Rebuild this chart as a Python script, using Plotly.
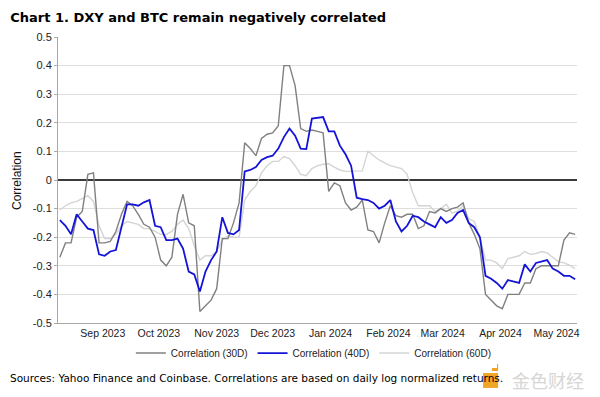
import plotly.graph_objects as go
import pandas as pd

# ---- data (one point every 3 days) ----
dates = pd.date_range("2023-08-09", periods=93, freq="3D")

corr_30d = [
    -0.27, -0.22, -0.22, -0.13, -0.11, 0.02, 0.025, -0.22, -0.22, -0.215,
    -0.18, -0.12, -0.075, -0.09, -0.12, -0.155, -0.165, -0.20, -0.28, -0.30,
    -0.27, -0.12, -0.05, -0.15, -0.16, -0.46, -0.44, -0.42, -0.38, -0.205,
    -0.205, -0.15, -0.08, 0.13, 0.11, 0.085, 0.145, 0.16, 0.165, 0.19,
    0.40, 0.40, 0.33, 0.18, 0.17, 0.175, 0.17, 0.165, -0.04, -0.01,
    -0.02, -0.08, -0.105, -0.095, -0.07, -0.175, -0.18, -0.22, -0.15, -0.09,
    -0.125, -0.13, -0.12, -0.12, -0.17, -0.16, -0.11, -0.115, -0.10, -0.11,
    -0.10, -0.095, -0.08, -0.15, -0.19, -0.24, -0.40, -0.42, -0.44, -0.45,
    -0.40, -0.40, -0.40, -0.36, -0.36, -0.31, -0.30, -0.30, -0.30, -0.30,
    -0.21, -0.185, -0.19,
]

corr_40d = [
    -0.14, -0.16, -0.19, -0.12, -0.145, -0.17, -0.175, -0.26, -0.265, -0.25,
    -0.245, -0.16, -0.085, -0.085, -0.09, -0.078, -0.07, -0.16, -0.165, -0.21,
    -0.21, -0.205, -0.24, -0.32, -0.33, -0.39, -0.32, -0.28, -0.25, -0.13,
    -0.185, -0.19, -0.175, 0.03, 0.035, 0.045, 0.07, 0.08, 0.085, 0.11,
    0.15, 0.18, 0.155, 0.11, 0.108, 0.215, 0.218, 0.22, 0.17, 0.17,
    0.12, 0.09, 0.05, -0.062, -0.067, -0.07, -0.08, -0.10, -0.09, -0.07,
    -0.145, -0.18, -0.16, -0.125, -0.13, -0.145, -0.155, -0.165, -0.13, -0.15,
    -0.14, -0.115, -0.105, -0.15, -0.165, -0.20, -0.335, -0.345, -0.36, -0.38,
    -0.35, -0.355, -0.36, -0.295, -0.32, -0.29, -0.285, -0.28, -0.31, -0.32,
    -0.335, -0.335, -0.347,
]

corr_60d = [
    -0.105, -0.09, -0.08, -0.075, -0.065, -0.055, -0.075, -0.16, -0.205, -0.205,
    -0.19, -0.16, -0.145, -0.15, -0.155, -0.17, -0.17, -0.18, -0.19, -0.19,
    -0.18, -0.155, -0.14, -0.17, -0.23, -0.28, -0.265, -0.265, -0.25, -0.21,
    -0.195, -0.20, -0.20, -0.07, -0.04, -0.02, 0.025, 0.05, 0.065, 0.065,
    0.082, 0.075, 0.05, 0.02, 0.015, 0.04, 0.05, 0.055, 0.057, 0.045,
    0.035, 0.03, 0.03, 0.03, 0.032, 0.10, 0.085, 0.07, 0.06, 0.05,
    0.045, 0.04, 0.02, -0.045, -0.09, -0.09, -0.09, -0.11, -0.10, -0.085,
    -0.115, -0.11, -0.09, -0.135, -0.145, -0.20, -0.28, -0.28, -0.29, -0.31,
    -0.275, -0.27, -0.265, -0.25, -0.26, -0.257, -0.25, -0.255, -0.27, -0.285,
    -0.29, -0.298, -0.31,
]

month_ticks = ["2023-09-01", "2023-10-01", "2023-11-01", "2023-12-01", "2024-01-01",
               "2024-02-01", "2024-03-01", "2024-04-01", "2024-05-01"]
month_labels = ["Sep 2023", "Oct 2023", "Nov 2023", "Dec 2023", "Jan 2024",
                "Feb 2024", "Mar 2024", "Apr 2024", "May 2024"]
y_ticks = [0.5, 0.4, 0.3, 0.2, 0.1, 0, -0.1, -0.2, -0.3, -0.4, -0.5]
y_tick_labels = ["0.5", "0.4", "0.3", "0.2", "0.1", "0", "-0.1", "-0.2", "-0.3", "-0.4", "-0.5"]

fig = go.Figure()
fig.add_trace(go.Scatter(x=dates, y=corr_60d, mode="lines", name="Correlation (60D)",
                         line=dict(color="#d4d4d4", width=1.4), legendrank=3))
fig.add_trace(go.Scatter(x=dates, y=corr_30d, mode="lines", name="Correlation (30D)",
                         line=dict(color="#808080", width=1.4), legendrank=1))
fig.add_trace(go.Scatter(x=dates, y=corr_40d, mode="lines", name="Correlation (40D)",
                         line=dict(color="#1414d8", width=1.8), legendrank=2))

fig.update_layout(
    width=600, height=397,
    margin=dict(l=58, r=23, t=37, b=74),
    plot_bgcolor="white", paper_bgcolor="white",
    title=dict(text="<b>Chart 1. DXY and BTC remain negatively correlated</b>",
               x=0.017, xanchor="left", y=0.957, yanchor="middle",
               font=dict(family="DejaVu Sans", size=13, color="black")),
    legend=dict(orientation="h", x=0.493, xanchor="center", y=-0.105, yanchor="middle",
                font=dict(family="Liberation Sans", size=10, color="#222"),
                itemwidth=30, tracegroupgap=0),
    showlegend=True,
)
fig.update_xaxes(type="date", range=["2023-08-08", "2024-05-12"],
                 tickvals=month_ticks, ticktext=month_labels,
                 showgrid=False, showline=True, linecolor="#a8a8a8", linewidth=1,
                 ticks="", tickfont=dict(family="Liberation Sans", size=10.5, color="#222"))
fig.update_yaxes(range=[-0.5, 0.5], tickvals=y_ticks, ticktext=y_tick_labels,
                 showgrid=True, gridcolor="#dedede", gridwidth=1,
                 zeroline=True, zerolinecolor="#3a3a3a", zerolinewidth=2,
                 showline=True, linecolor="#a8a8a8", linewidth=1,
                 ticks="outside", ticklen=3, tickcolor="#a8a8a8",
                 tickfont=dict(family="Liberation Sans", size=11, color="#222"))

fig.add_annotation(text="Correlation", textangle=-90, xref="paper", yref="paper",
                   x=-0.079, y=0.5, xanchor="center", yanchor="middle", showarrow=False,
                   font=dict(family="Liberation Sans", size=12, color="#111"))
fig.add_annotation(text="Sources: Yahoo Finance and Coinbase. Correlations are based on daily log normalized returns.",
                   xref="paper", yref="paper", x=-0.0963, y=-0.192, xanchor="left", yanchor="middle",
                   showarrow=False, font=dict(family="DejaVu Sans", size=10.5, color="black"))
# watermark
fig.add_shape(type="rect", xref="paper", yref="paper", x0=0.819, x1=0.848, y0=-0.227, y1=-0.175,
              fillcolor="#f0a526", line=dict(width=0))
fig.add_shape(type="rect", xref="paper", yref="paper", x0=0.836, x1=0.848, y0=-0.168, y1=-0.143,
              fillcolor="#f0a526", line=dict(width=0))
fig.add_annotation(text="金色财经", xref="paper", yref="paper", x=0.945, y=-0.2, xanchor="center",
                   yanchor="middle", showarrow=False,
                   font=dict(family="Noto Sans CJK SC", size=18, color="#d6d6d6"))

fig.write_html("out.html", config={"displayModeBar": False},
               post_script="document.body.style.margin='0';")
